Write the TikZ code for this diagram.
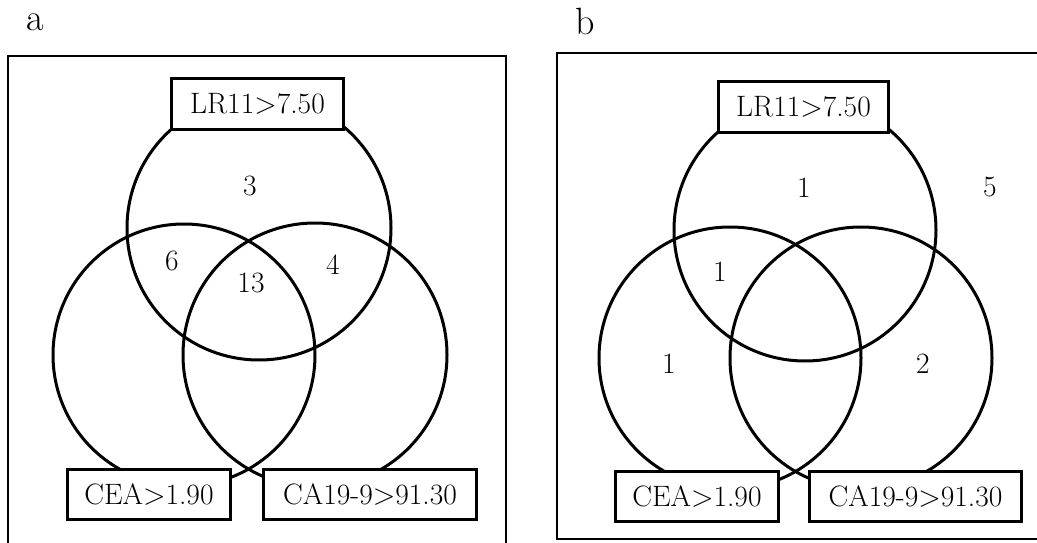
\documentclass[tikz,border=0pt]{standalone}
\begin{document}
\begin{tikzpicture}[x=1pt,y=-1pt,
  ring/.style={line width=3pt},
  panel/.style={line width=2.2pt},
  labelbox/.style={draw, line width=3pt, fill=white, inner sep=0pt, minimum height=50pt, font=\fontsize{29.5}{32}\selectfont},
  count/.style={inner sep=0pt, font=\fontsize{29.5}{32}\selectfont},
  tag/.style={inner sep=0pt, font=\fontsize{38}{42}\selectfont}]
\useasboundingbox (0,0) rectangle (1037,543);
% panel labels
\node[tag] (taga) at (35,22) {a};
\node[tag] (tagb) at (585,21) {b};
% panel frames
\draw[panel] (8,545) -- (8,56) -- (506,56) -- (506,545);
\draw[panel] (1040,539) -- (557,539) -- (557,53) -- (1040,53);
% panel a circles
\draw[ring] (259,228) circle (132);
\draw[ring] (184,355) circle (131);
\draw[ring] (315,355) circle (132);
% panel b circles
\draw[ring] (805,230) circle (131);
\draw[ring] (730,358) circle (131);
\draw[ring] (861,358) circle (131);
% panel a boxes
\node[labelbox, minimum width=172pt] (lra) at (257.5,104) {LR11>7.50};
\node[labelbox, minimum width=163pt] (ceaa) at (149,494.5) {CEA>1.90};
\node[labelbox, minimum width=213pt] (caa) at (370,494.5) {CA19-9>91.30};
% panel b boxes
\node[labelbox, minimum width=170pt] (lrb) at (803.5,107) {LR11>7.50};
\node[labelbox, minimum width=163pt] (ceab) at (697,496) {CEA>1.90};
\node[labelbox, minimum width=212pt] (cab) at (915.5,496) {CA19-9>91.30};
% panel a counts
\node[count] (a1) at (250,186) {3};
\node[count] (a2) at (172,261) {6};
\node[count] (a3) at (251,283) {13};
\node[count] (a4) at (333,265) {4};
% panel b counts
\node[count] (b1) at (804,188) {1};
\node[count] (b2) at (720,272) {1};
\node[count] (b3) at (669,364) {1};
\node[count] (b4) at (923,364) {2};
\node[count] (b5) at (990,187) {5};
\end{tikzpicture}
\end{document}
